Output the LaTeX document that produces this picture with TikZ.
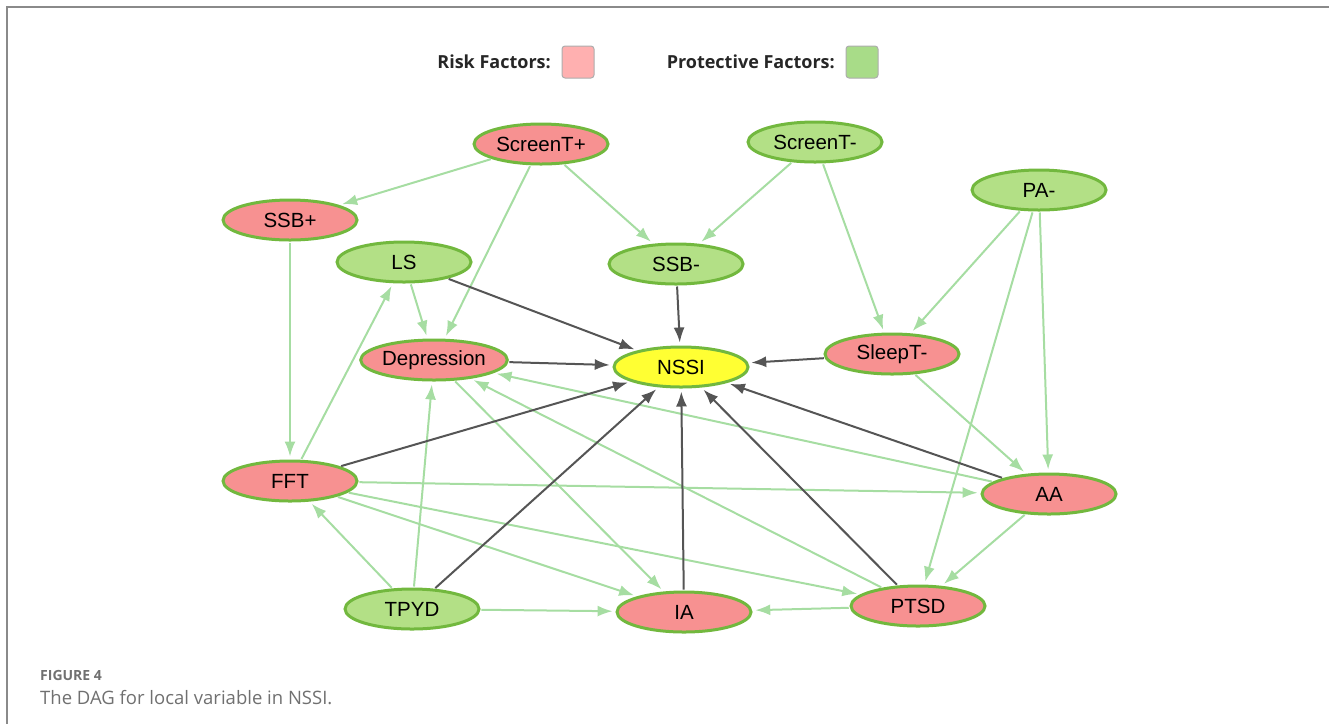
\documentclass[tikz,border=0pt]{standalone}
\usepackage{fontspec}
\setmainfont{Liberation Sans}
\newfontfamily\capfont{Open Sans}
\usetikzlibrary{shapes.geometric,arrows.meta}
\definecolor{riskfill}{HTML}{F79191}
\definecolor{protfill}{HTML}{B3E086}
\definecolor{outfill}{HTML}{FFFF33}
\definecolor{nodeborder}{HTML}{72B83E}
\definecolor{edgegreen}{HTML}{A6DDA2}
\definecolor{edgedark}{HTML}{555555}
\definecolor{legrisk}{HTML}{FFB0B0}
\definecolor{legprot}{HTML}{A8DC88}
\definecolor{frame}{HTML}{8A8A8A}
\definecolor{captext}{HTML}{707070}
\tikzset{
  vnode/.style={ellipse, draw=nodeborder, line width=3pt, minimum width=134pt, minimum height=40pt, inner sep=0pt, font=\fontsize{20.5}{22}\selectfont},
  risk/.style={vnode, fill=riskfill},
  prot/.style={vnode, fill=protfill},
  outc/.style={vnode, fill=outfill},
  gedge/.style={draw=edgegreen, line width=2pt, -{Latex[length=15pt,width=11pt]}, shorten >=3pt, shorten <=1pt},
  dedge/.style={draw=edgedark, line width=2pt, -{Latex[length=15pt,width=11pt]}, shorten >=3pt, shorten <=1pt},
  legbox/.style={draw=frame!70, line width=1pt, rounded corners=3pt, minimum width=32pt, minimum height=32pt, inner sep=0pt},
  legtext/.style={font=\capfont\bfseries\fontsize{18}{20}\selectfont, text=black!85, inner sep=0pt}
}
\begin{document}
\begin{tikzpicture}[x=1pt,y=-1pt]
\useasboundingbox (0,0) rectangle (1329,724);
\draw[frame, line width=1.5pt] (1329,7) -- (7,7) -- (7,724);
% legend
\node[legtext, anchor=east] (lrt) at (551,62) {Risk Factors:};
\node[legbox, fill=legrisk] (lrb) at (578,62) {};
\node[legtext, anchor=east] (lpt) at (835,62) {Protective Factors:};
\node[legbox, fill=legprot] (lpb) at (862,62) {};
% nodes
\node[risk] (stp) at (541,144) {ScreenT+};
\node[prot] (stm) at (815,142) {ScreenT-};
\node[risk] (ssbp) at (290,220) {SSB+};
\node[prot] (pa) at (1039,190) {PA-};
\node[prot] (ls) at (404,262) {LS};
\node[prot] (ssbm) at (676,264) {SSB-};
\node[risk] (dep) at (434,360) {Depression};
\node[outc] (nssi) at (681,367) {NSSI};
\node[risk] (slp) at (892,354) {SleepT-};
\node[risk] (fft) at (290,481) {FFT};
\node[risk] (aa) at (1049,494) {AA};
\node[prot] (tpyd) at (412,609) {TPYD};
\node[risk] (ia) at (684,612) {IA};
\node[risk] (ptsd) at (918,606) {PTSD};
% green edges
\draw[gedge] (stp) -- (ssbp);
\draw[gedge] (stp) -- (dep);
\draw[gedge] (stp) -- (ssbm);
\draw[gedge] (stm) -- (ssbm);
\draw[gedge] (stm) -- (slp);
\draw[gedge] (pa) -- (slp);
\draw[gedge] (pa) -- (ptsd);
\draw[gedge] (pa) -- (aa);
\draw[gedge] (ssbp) -- (fft);
\draw[gedge] (ls) -- (dep);
\draw[gedge] (fft) -- (ls);
\draw[gedge] (tpyd) -- (fft);
\draw[gedge] (tpyd) -- (dep);
\draw[gedge] (tpyd) -- (ia);
\draw[gedge] (fft) -- (aa);
\draw[gedge] (fft) -- (ptsd);
\draw[gedge] (fft) -- (ia);
\draw[gedge] (dep) -- (ia);
\draw[gedge] (aa) -- (dep);
\draw[gedge] (ptsd) -- (dep);
\draw[gedge] (slp) -- (aa);
\draw[gedge] (aa) -- (ptsd);
\draw[gedge] (ptsd) -- (ia);
% dark edges
\draw[dedge] (ls) -- (nssi);
\draw[dedge] (ssbm) -- (nssi);
\draw[dedge] (dep) -- (nssi);
\draw[dedge] (slp) -- (nssi);
\draw[dedge] (fft) -- (nssi);
\draw[dedge] (tpyd) -- (nssi);
\draw[dedge] (ia) -- (nssi);
\draw[dedge] (ptsd) -- (nssi);
\draw[dedge] (aa) -- (nssi);
% caption
\node[anchor=base west, inner sep=0pt, text=captext, font=\capfont\bfseries\fontsize{14}{16}\selectfont] (fig) at (40,680) {FIGURE 4};
\node[anchor=base west, inner sep=0pt, text=captext, font=\capfont\fontsize{18.5}{20}\selectfont] (cap) at (40,704) {The DAG for local variable in NSSI.};
\end{tikzpicture}
\end{document}
